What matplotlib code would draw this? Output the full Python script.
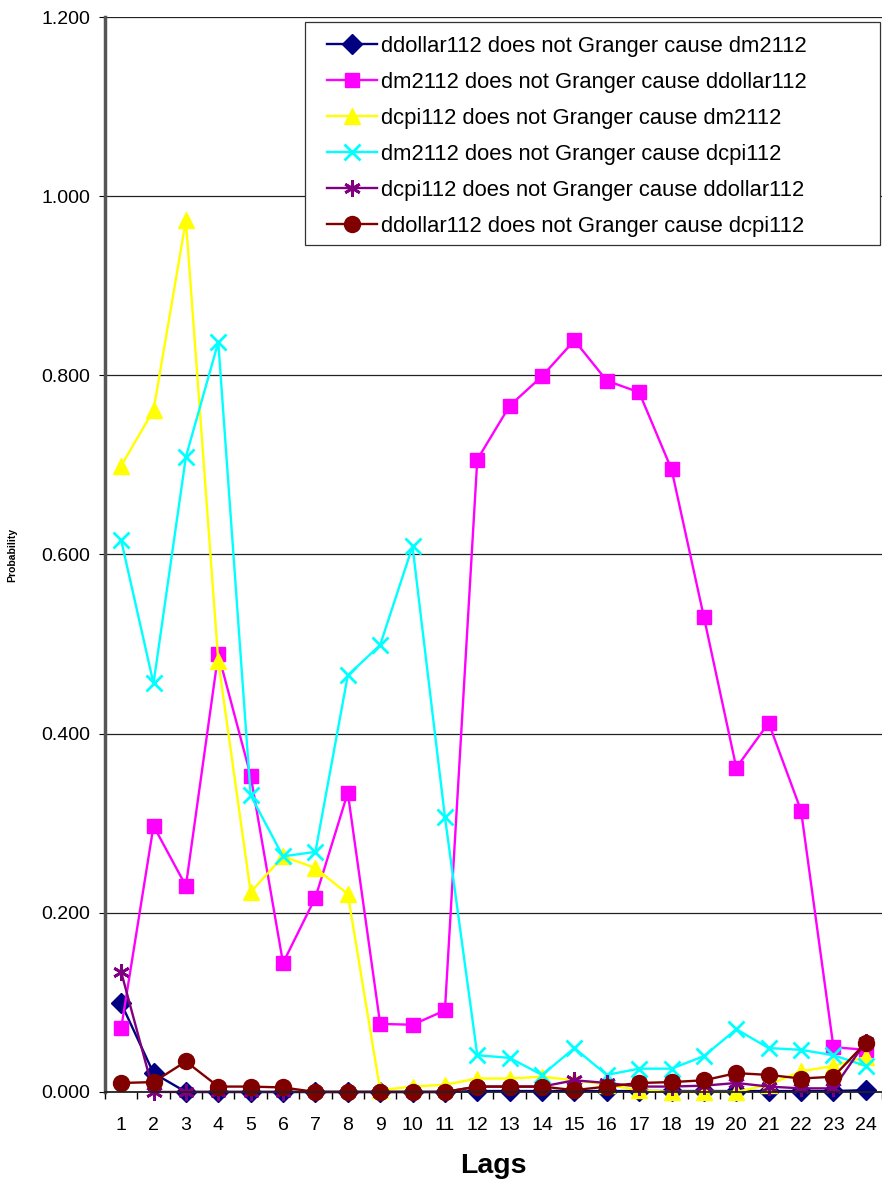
import matplotlib
matplotlib.use("Agg")
import matplotlib.pyplot as plt
from matplotlib.patches import Rectangle
from matplotlib.ticker import FixedLocator, FormatStrFormatter

plt.rcParams['font.family'] = ['Liberation Sans', 'DejaVu Sans']

lags = list(range(1, 25))

ddollar_dm = [0.099, 0.021, 0.000, 0.000, 0.000, 0.000, 0.000, 0.000, 0.000, 0.000, 0.000, 0.001,
              0.001, 0.001, 0.001, 0.001, 0.001, 0.001, 0.001, 0.001, 0.001, 0.001, 0.001, 0.002]
dm_ddollar = [0.071, 0.297, 0.230, 0.489, 0.353, 0.144, 0.217, 0.334, 0.076, 0.075, 0.091, 0.706,
              0.766, 0.799, 0.839, 0.794, 0.781, 0.695, 0.530, 0.362, 0.412, 0.314, 0.050, 0.047]
dcpi_dm = [0.699, 0.761, 0.973, 0.481, 0.223, 0.263, 0.250, 0.221, 0.002, 0.006, 0.008, 0.015,
           0.015, 0.017, 0.013, 0.008, 0.002, 0.000, 0.000, 0.000, 0.008, 0.023, 0.029, 0.039]
dm_dcpi = [0.616, 0.456, 0.709, 0.837, 0.331, 0.263, 0.268, 0.465, 0.499, 0.609, 0.307, 0.041,
           0.038, 0.019, 0.049, 0.019, 0.026, 0.026, 0.040, 0.070, 0.049, 0.047, 0.041, 0.029]
dcpi_ddollar = [0.134, 0.000, 0.000, 0.000, 0.000, 0.000, 0.000, 0.000, 0.000, 0.000, 0.000, 0.006,
                0.006, 0.006, 0.013, 0.010, 0.006, 0.006, 0.007, 0.010, 0.006, 0.004, 0.004, 0.056]
ddollar_dcpi = [0.010, 0.011, 0.034, 0.006, 0.006, 0.005, 0.000, 0.000, 0.000, 0.000, 0.000, 0.006,
                0.006, 0.006, 0.002, 0.006, 0.010, 0.011, 0.013, 0.021, 0.019, 0.015, 0.017, 0.055]

series = [
    (ddollar_dm, 'ddollar112 does not Granger cause dm2112', '#000080', 'D', 10),
    (dm_ddollar, 'dm2112 does not Granger cause ddollar112', '#FF00FF', 's', 10.5),
    (dcpi_dm, 'dcpi112 does not Granger cause dm2112', '#FFFF00', '^', 11.5),
    (dm_dcpi, 'dm2112 does not Granger cause dcpi112', '#00FFFF', 'x', 11),
    (dcpi_ddollar, 'dcpi112 does not Granger cause ddollar112', '#800080', (6, 2, 0), 12),
    (ddollar_dcpi, 'ddollar112 does not Granger cause dcpi112', '#800000', 'o', 11.5),
]

fig = plt.figure(figsize=(8.82, 11.9), dpi=100)
ax = fig.add_axes([0.119, 0.0824, 0.881, 0.9033])

for vals, label, color, marker, ms in series:
    ax.plot(lags, vals, color=color, marker=marker, markersize=ms, linewidth=1.7,
            markeredgewidth=2 if marker in ('x', (6, 2, 0)) else 1,
            markeredgecolor=color, label=label, clip_on=False)

ax.set_xlim(0.5, 24.5)
ax.set_ylim(0, 1.2)
ax.yaxis.set_major_locator(FixedLocator([0, 0.2, 0.4, 0.6, 0.8, 1.0, 1.2]))
ax.yaxis.set_major_formatter(FormatStrFormatter('%.3f'))
ax.set_xticks(lags)
ax.set_xticks([l + 0.5 for l in [0] + lags], minor=True)
ax.tick_params(axis='x', which='major', length=0, labelsize=14, pad=18)
ax.tick_params(axis='x', which='minor', length=5, width=1, direction='out')
ax.tick_params(axis='y', length=4.5, direction='out', labelsize=14, pad=6)

ax.grid(axis='y', color='#222222', linewidth=0.9)
ax.set_axisbelow(True)
for s in ['top', 'right']:
    ax.spines[s].set_visible(False)
ax.spines['left'].set_color('#555555')
ax.spines['left'].set_linewidth(2.5)
ax.spines['bottom'].set_color('#222222')
ax.spines['bottom'].set_linewidth(1.3)

ax.set_xlabel('Lags', fontsize=20.5, fontweight='bold', labelpad=14)
ax.set_ylabel('Probability', fontsize=7.5, fontweight='bold')
ax.yaxis.set_label_coords(-0.113, 0.5)

# Excel-style legend: frame drawn separately, wider than the entries
box = Rectangle((305 / 882, 1 - 245 / 1190), 575 / 882, 223 / 1190,
                transform=fig.transFigure, facecolor='white', edgecolor='#333333',
                linewidth=0.9, zorder=4, clip_on=False)
ax.add_patch(box)
leg = ax.legend(loc='upper left', bbox_to_anchor=(327 / 882, 1 - 36 / 1190),
                bbox_transform=fig.transFigure, fontsize=15.8, frameon=False,
                handlelength=2.3, handletextpad=0.15, labelspacing=0.68,
                borderpad=0, borderaxespad=0)
leg.set_zorder(5)

fig.savefig('out.png', dpi=100)
